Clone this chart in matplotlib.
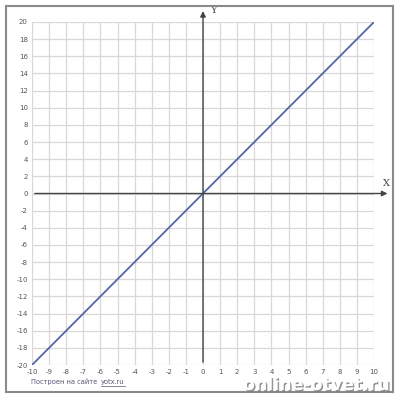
import numpy as np
import matplotlib.pyplot as plt
import matplotlib.patheffects as pe
from matplotlib.patches import Rectangle

# data: y = 2x
x_vals = [-10, 10]
y_vals = [-20, 20]
x_ticks = list(range(-10, 11))
y_ticks = list(range(-20, 21, 2))

W, H = 398, 400
fig = plt.figure(figsize=(W / 100, H / 100), dpi=100)

# outer frame
fig.patches.append(Rectangle((6 / W, 8 / H), 387 / W, 386 / H, transform=fig.transFigure,
                             fill=False, edgecolor="#8a8a8a", linewidth=1.5))

ax = fig.add_axes([32 / W, (H - 365) / H, 342 / W, 343 / H])
ax.set_xlim(-10, 10)
ax.set_ylim(-20, 20)
for s in ax.spines.values():
    s.set_visible(False)

ax.set_xticks(x_ticks)
ax.set_yticks(y_ticks)
ax.set_xticklabels([str(t) for t in x_ticks])
ax.set_yticklabels([str(t) for t in y_ticks])
ax.tick_params(length=0, labelsize=5, labelcolor="#555555", pad=3)
ax.grid(True, color="#d8d8d8", linewidth=0.9)
ax.set_axisbelow(True)

# axes with arrows
ax.annotate("", xy=(10.95, 0), xytext=(-10, 0), annotation_clip=False,
            arrowprops=dict(arrowstyle="-|>", color="#444444", lw=1.0, mutation_scale=8))
ax.annotate("", xy=(0, 21.6), xytext=(0, -20), annotation_clip=False,
            arrowprops=dict(arrowstyle="-|>", color="#444444", lw=1.0, mutation_scale=8))
ax.text(10.7, 0.6, "X", fontsize=7, family="DejaVu Serif", color="#444444", ha="center", va="bottom")
ax.text(0.4, 21.3, "Y", fontsize=7, family="DejaVu Serif", color="#444444", ha="left", va="center")

ax.plot(x_vals, y_vals, color="#5565a5", linewidth=1.3)

# footer credit, second part placed right after the first
t1 = fig.text(31 / W, 1 - 382 / H, "Построен на сайте", fontsize=4.8, color="#555577", va="center")
fig.canvas.draw()
bb = t1.get_window_extent()
x2 = bb.x1 / W + 4 / W
t2 = fig.text(x2, 1 - 382 / H, "yotx.ru", fontsize=4.8, color="#555577", va="center")
fig.canvas.draw()
bb2 = t2.get_window_extent()
fig.add_artist(plt.Line2D([bb2.x0 / W, bb2.x1 / W], [1 - 386 / H, 1 - 386 / H], color="#555577", lw=0.5))

fig.text(390 / W, 1 - 385 / H, "online-otvet.ru", fontsize=12.5, fontweight="bold", color="white",
         ha="right", va="center",
         path_effects=[pe.withSimplePatchShadow(offset=(1, -1), shadow_rgbFace="#777777", alpha=0.8)])

fig.savefig("out.png", dpi=100)
